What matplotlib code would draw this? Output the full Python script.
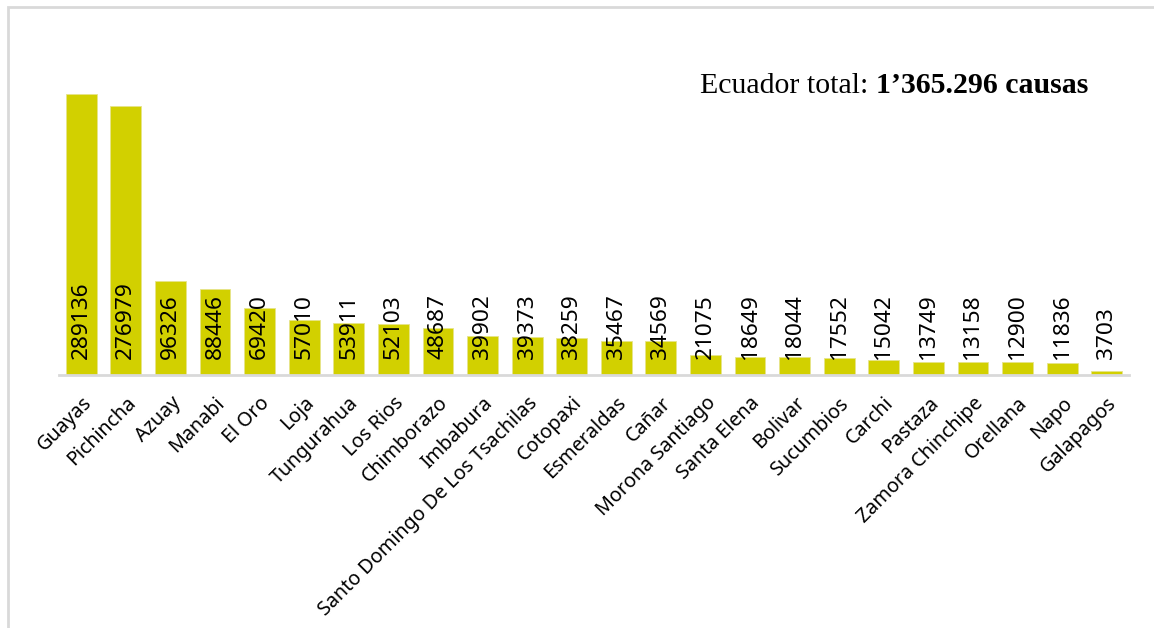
import matplotlib
matplotlib.use("Agg")
import matplotlib.pyplot as plt
from matplotlib.patches import Rectangle

provinces = [
    "Guayas", "Pichincha", "Azuay", "Manabi", "El Oro", "Loja", "Tungurahua",
    "Los Rios", "Chimborazo", "Imbabura", "Santo Domingo De Los Tsachilas",
    "Cotopaxi", "Esmeraldas", "Cañar", "Morona Santiago", "Santa Elena",
    "Bolivar", "Sucumbios", "Carchi", "Pastaza", "Zamora Chinchipe",
    "Orellana", "Napo", "Galapagos",
]
causas = [
    289136, 276979, 96326, 88446, 69420, 57010, 53911, 52103, 48687, 39902,
    39373, 38259, 35467, 34569, 21075, 18649, 18044, 17552, 15042, 13749,
    13158, 12900, 11836, 3703,
]

BAR = "#d2d000"
GRID = "#d9d9d9"
SANS = ["Noto Sans", "DejaVu Sans"]
SERIF = ["Liberation Serif", "DejaVu Serif"]
W, H = 1154, 628

fig = plt.figure(figsize=(W / 100, H / 100), dpi=100)
# outer chart frame (only top and left edges visible in the reference)
fig.patches.append(Rectangle((8 / W, -0.1), 1.2, 1 - 7 / H + 0.1,
                             transform=fig.transFigure, fill=False,
                             edgecolor=GRID, lw=2))

ax = fig.add_axes([59 / W, (H - 375) / H, (1129 - 59) / W, (375 - 83.4) / H])
x = range(len(provinces))
ax.bar(x, causas, width=0.69, color=BAR, edgecolor="#e6e48a", lw=0.6, zorder=2)
ax.set_xlim(-0.5, len(provinces) - 0.5)
ax.set_ylim(0, 300000)

for sp in ["top", "right", "left"]:
    ax.spines[sp].set_visible(False)
ax.spines["bottom"].set_color(GRID)
ax.spines["bottom"].set_linewidth(2)
ax.set_yticks([])
ax.set_xticks(list(x))
ax.set_xticklabels(provinces, rotation=45, ha="right", rotation_mode="anchor",
                   fontsize=14.2, family=SANS)
ax.tick_params(axis="x", length=0, pad=13)

# value labels inside the base of each bar
for i, v in enumerate(causas):
    ax.annotate(str(v), (i, 0), xytext=(0, 16), textcoords="offset pixels",
                rotation=90, ha="center", va="bottom", fontsize=16.3,
                family=SANS, zorder=3)

ty = 1 - 93 / H
t1 = fig.text(700 / W, ty, "Ecuador total: ", ha="left", va="baseline",
              fontsize=21.5, family=SERIF)
fig.canvas.draw()
x1 = t1.get_window_extent().x1
fig.text(x1 / W, ty, "1’365.296 causas", ha="left", va="baseline",
         fontsize=21.5, fontweight="bold", family=SERIF)

fig.savefig("out.png", dpi=100)
